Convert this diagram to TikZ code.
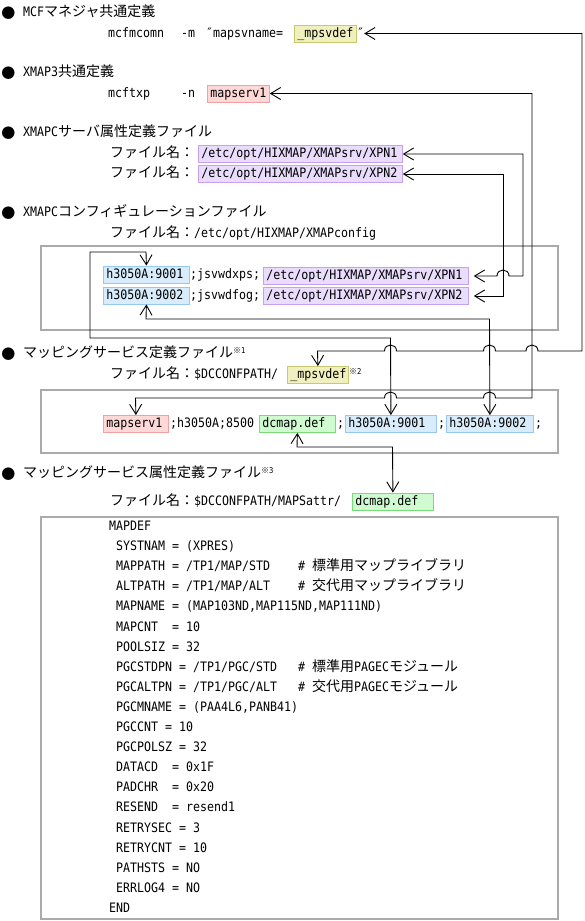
\documentclass[tikz,border=0pt]{standalone}
\usepackage{fontspec}
\setmainfont{DejaVu Sans Mono}[FakeStretch=0.894]
\newfontfamily\jpf{Noto Sans CJK JP}
\usetikzlibrary{arrows.meta}
\newcommand\J[1]{{\jpf\fontsize{14}{16}\selectfont #1}}
\newcommand\nt[1]{\raisebox{4.5pt}{\jpf\fontsize{8}{9}\selectfont ※\rmfamily\fontsize{8}{9}\selectfont #1}}
\definecolor{yfill}{RGB}{240,240,190}\definecolor{ydraw}{RGB}{200,200,110}
\definecolor{pfill}{RGB}{255,216,216}\definecolor{pdraw}{RGB}{245,160,160}
\definecolor{vfill}{RGB}{234,220,252}\definecolor{vdraw}{RGB}{200,160,240}
\definecolor{bfill}{RGB}{216,236,252}\definecolor{bdraw}{RGB}{150,200,245}
\definecolor{gfill}{RGB}{208,250,208}\definecolor{gdraw}{RGB}{120,220,120}
\definecolor{gframe}{RGB}{170,170,170}
\begin{document}
\begin{tikzpicture}[x=1pt,y=-1pt,
  font=\fontsize{13}{15}\selectfont,
  >={Straight Barb[length=10pt,width=12pt]},
  txt/.style={anchor=west, inner sep=0pt, text height=10pt, text depth=3pt},
  bul/.style={inner sep=0pt, text height=10pt, text depth=3pt},
  hl/.style={anchor=west, inner xsep=3pt, inner ysep=2pt, text height=10pt, text depth=3pt, line width=0.8pt, align=left},
  ylw/.style={hl, fill=yfill, draw=ydraw},
  pnk/.style={hl, fill=pfill, draw=pdraw},
  vio/.style={hl, fill=vfill, draw=vdraw},
  blu/.style={hl, fill=bfill, draw=bdraw},
  grn/.style={hl, fill=gfill, draw=gdraw},
  frame/.style={draw=gframe, line width=2pt, anchor=north west, inner sep=0pt},
  conn/.style={draw=black, line width=0.9pt, <->}]
\useasboundingbox[fill=white] (0,0) rectangle (585,921);

% section 1
\node[bul] (b1) at (8.5,14.5) {\J{●}};
\node[txt] (h1) at (23,13) {MCF\J{マネジャ共通定義}};
\node[txt] (c1) at (108,33.5) {mcfmcomn\hspace{17pt}-m\hspace{11pt}″mapsvname=};
\node[ylw, text width=56pt] (mpA) at (294,33.5) {\_mpsvdef};
\node[txt] (q1) at (mpA.east) {″};

% section 2
\node[bul] (b2) at (8.5,74.5) {\J{●}};
\node[txt] (h2) at (23,73) {XMAP3\J{共通定義}};
\node[txt] (c2) at (108,94) {mcftxp\hspace{31pt}-n};
\node[pnk, text width=56pt] (msA) at (207,93.5) {mapserv1};

% section 3
\node[bul] (b3) at (8.5,134.5) {\J{●}};
\node[txt] (h3) at (23,133) {XMAPC\J{サーバ属性定義ファイル}};
\node[txt] (f1) at (110,154) {\J{ファイル名：}};
\node[vio, text width=198pt] (xA) at (198,154) {/etc/opt/HIXMAP/XMAPsrv/XPN1};
\node[txt] (f2) at (110,174) {\J{ファイル名：}};
\node[vio, text width=198pt] (xB) at (198,174) {/etc/opt/HIXMAP/XMAPsrv/XPN2};

% section 4
\node[bul] (b4) at (8.5,214.5) {\J{●}};
\node[txt] (h4) at (23,213) {XMAPC\J{コンフィギュレーションファイル}};
\node[txt] (f3) at (110,234) {\J{ファイル名：}/etc/opt/HIXMAP/XMAPconfig};
\node[frame, minimum width=517pt, minimum height=84pt] (box1) at (40,245) {};
\node[blu, text width=80pt] (hA) at (103,274.5) {h3050A:9001};
\node[txt] (r1) at (190,275) {;jsvwdxps;};
\node[vio, text width=199pt] (xC) at (263,276) {/etc/opt/HIXMAP/XMAPsrv/XPN1};
\node[blu, text width=80pt] (hB) at (103,295.5) {h3050A:9002};
\node[txt] (r2) at (190,296) {;jsvwdfog;};
\node[vio, text width=199pt] (xD) at (263,296) {/etc/opt/HIXMAP/XMAPsrv/XPN2};

% section 5
\node[bul] (b5) at (8.5,355.5) {\J{●}};
\node[txt] (h5) at (23,354) {\J{マッピングサービス定義ファイル}\nt{1}};
\node[txt] (f5) at (110,375) {\J{ファイル名：}\$DCCONFPATH/};
\node[ylw, text width=55pt] (mpB) at (287,375) {\_mpsvdef};
\node[txt] (n2) at (mpB.east) {\nt{2}};
\node[frame, minimum width=517pt, minimum height=63pt] (box2) at (40,389) {};
\node[pnk, text width=59pt] (msB) at (103,424) {mapserv1};
\node[txt] (r3) at (170,424) {;h3050A;8500};
\node[grn, text width=70pt] (dB) at (259,424) {dcmap.def};
\node[txt] (s1) at (337,424) {;};
\node[blu, text width=85pt] (hC) at (345,424) {h3050A:9001};
\node[txt] (s2) at (438,424) {;};
\node[blu, text width=81pt] (hD) at (446,424) {h3050A:9002};
\node[txt] (s3) at (535,424) {;};

% section 6
\node[bul] (b6) at (8.5,475.5) {\J{●}};
\node[txt] (h6) at (23,474) {\J{マッピングサービス属性定義ファイル}\nt{3}};
\node[txt] (f6) at (110,501.5) {\J{ファイル名：}\$DCCONFPATH/MAPSattr/};
\node[grn, text width=75pt] (dE) at (352,501.5) {dcmap.def};
\node[frame, minimum width=517pt, minimum height=402pt] (box3) at (40,516) {};

\node[txt] (l0) at (109,527.0) {MAPDEF};
\node[txt] (l1) at (116,547.1) {SYSTNAM = (XPRES)};
\node[txt] (l2) at (116,567.2) {MAPPATH = /TP1/MAP/STD~~~~\# \J{標準用マップライブラリ}};
\node[txt] (l3) at (116,587.3) {ALTPATH = /TP1/MAP/ALT~~~~\# \J{交代用マップライブラリ}};
\node[txt] (l4) at (116,607.4) {MAPNAME = (MAP103ND,MAP115ND,MAP111ND)};
\node[txt] (l5) at (116,627.5) {MAPCNT~~= 10};
\node[txt] (l6) at (116,647.6) {POOLSIZ = 32};
\node[txt] (l7) at (116,667.7) {PGCSTDPN = /TP1/PGC/STD~~~\# \J{標準用}PAGEC\J{モジュール}};
\node[txt] (l8) at (116,687.8) {PGCALTPN = /TP1/PGC/ALT~~~\# \J{交代用}PAGEC\J{モジュール}};
\node[txt] (l9) at (116,707.9) {PGCMNAME = (PAA4L6,PANB41)};
\node[txt] (l10) at (116,728.0) {PGCCNT = 10};
\node[txt] (l11) at (116,748.1) {PGCPOLSZ = 32};
\node[txt] (l12) at (116,768.2) {DATACD~~= 0x1F};
\node[txt] (l13) at (116,788.3) {PADCHR~~= 0x20};
\node[txt] (l14) at (116,808.4) {RESEND~~= resend1};
\node[txt] (l15) at (116,828.5) {RETRYSEC = 3};
\node[txt] (l16) at (116,848.6) {RETRYCNT = 10};
\node[txt] (l17) at (116,868.7) {PATHSTS = NO};
\node[txt] (l18) at (116,888.8) {ERRLOG4 = NO};
\node[txt] (l19) at (109,908.9) {END};

% connectors
\draw[conn] (q1.east) -- (582,33.5) -- (582,351) -- (538,351)
  .. controls (538,343) and (526,343) .. (526,351) -- (495.5,351)
  .. controls (495.5,343) and (483.5,343) .. (483.5,351) -- (396.5,351)
  .. controls (396.5,343) and (384.5,343) .. (384.5,351) -- (317.5,351) -- (mpB.north);
\draw[conn] (msA.east) -- (532,93.5) -- (532,398) -- (495.5,398)
  .. controls (495.5,390) and (483.5,390) .. (483.5,398) -- (396.5,398)
  .. controls (396.5,390) and (384.5,390) .. (384.5,398) -- (135.5,398) -- (msB.north);
\draw[conn] (xA.east) -- (523,154) -- (523,276) -- (509,276)
  .. controls (509,268) and (497,268) .. (497,276) -- ([xshift=5pt]xC.east);
\draw[conn] (xB.east) -- (503,174) -- (503,296) -- ([xshift=5pt]xD.east);
\draw[conn] (hA.north) -- (146,252) -- (90,252) -- (90,338) -- (390.5,338) -- (hC.north);
\draw[conn] (hB.south) -- (146,319) -- (489.5,319) -- (hD.north);
\draw[conn] (dB.south) -- (297,447) -- (392.5,447) -- (dE.north);
\end{tikzpicture}
\end{document}
